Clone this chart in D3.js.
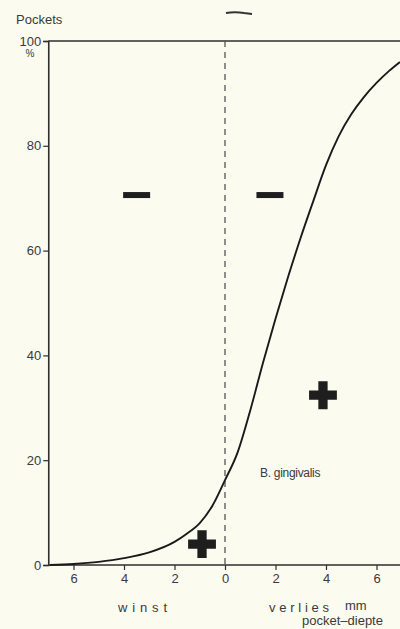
<!DOCTYPE html>
<html><head><meta charset="utf-8">
<script src="https://cdn.jsdelivr.net/npm/d3@7"></script>
<style>
html,body{margin:0;padding:0;background:#fbfbf0;}
svg{display:block;}
text{font-family:"Liberation Sans",Arial,sans-serif;fill:#3a3a3a;}
</style></head>
<body>
<svg id="c" width="400" height="629"></svg>
<script>
// data
const depth = [-6.93,-6,-5,-4,-3,-2,-1.5,-1,-0.5,0,0.5,1,1.5,2,2.5,3,3.5,4,4.5,5,5.5,6,6.5,6.93];
const pockets = [0,0.2,0.6,1.3,2.4,4.4,6.0,8.0,11.3,16.2,21.5,29.5,38.5,47,55,62.5,69.5,76.3,81.8,86,89.3,92,94.3,96];
const minusX = [-3.5, 1.78];
const minusY = [70.6, 70.6];
const plusX = [3.88, -0.91];
const plusY = [32.4, 4.0];
const yTicks = [0,20,40,60,80,100];
const xTicks = [-6,-4,-2,0,2,4,6];
const xTickLabels = ["6","4","2","0","2","4","6"];

const svg = d3.select("#c");
const x = d3.scaleLinear().domain([-7,7]).range([225-7*25.25, 225+7*25.25]);
const y = d3.scaleLinear().domain([0,100]).range([565,41]);
const ink = "#2e2e2e";

// frame lines
svg.append("line").attr("x1",x(-7)).attr("x2",400).attr("y1",y(100)).attr("y2",y(100))
  .attr("stroke",ink).attr("stroke-width",1.6);
svg.append("line").attr("x1",x(-7)).attr("x2",400).attr("y1",y(0)).attr("y2",y(0))
  .attr("stroke",ink).attr("stroke-width",1.6);

// y axis
const ya = svg.append("g").attr("transform",`translate(${x(-7)},0)`)
  .call(d3.axisLeft(y).tickValues(yTicks).tickSize(5).tickPadding(2).tickFormat(d=>d));
ya.select(".domain").attr("stroke",ink).attr("stroke-width",1.6);
ya.selectAll(".tick line").attr("stroke",ink).attr("stroke-width",1.2);
ya.selectAll(".tick text").style("font-size","13px").attr("fill","#3a3a3a")
  .style("font-family","'Liberation Sans',Arial,sans-serif");

// x axis
const xa = svg.append("g").attr("transform",`translate(0,${y(0)})`)
  .call(d3.axisBottom(x).tickValues(xTicks).tickSize(5).tickPadding(4).tickFormat((d,i)=>xTickLabels[i]));
xa.select(".domain").remove();
xa.selectAll(".tick line").attr("stroke",ink).attr("stroke-width",1.2);
xa.selectAll(".tick text").style("font-size","13px").attr("fill","#3a3a3a")
  .style("font-family","'Liberation Sans',Arial,sans-serif");

// dashed zero line
svg.append("line").attr("x1",x(0)).attr("x2",x(0)).attr("y1",y(100)).attr("y2",y(0))
  .attr("stroke","#555").attr("stroke-width",1.3).attr("stroke-dasharray","6,5");

// curve
const line = d3.line().x((d,i)=>x(depth[i])).y((d,i)=>y(pockets[i])).curve(d3.curveMonotoneX);
svg.append("path").datum(depth).attr("d",line).attr("fill","none")
  .attr("stroke","#1a1a1a").attr("stroke-width",1.9);

// minus signs
svg.selectAll(".minus").data(minusX).enter().append("rect")
  .attr("x",(d)=>x(d)-13.5).attr("y",(d,i)=>y(minusY[i])-3)
  .attr("width",27).attr("height",6).attr("fill","#1e1e1e");

// plus signs
const cross = d3.symbol().type(d3.symbolCross).size(430);
svg.selectAll(".plus").data(plusX).enter().append("path")
  .attr("d",cross).attr("transform",(d,i)=>`translate(${x(d)},${y(plusY[i])})`)
  .attr("fill","#1e1e1e");

// texts
svg.append("text").attr("x",16).attr("y",24).style("font-size","13px").text("Pockets");
svg.append("text").attr("x",30).attr("y",57).attr("text-anchor","middle").style("font-size","10px").text("%");
svg.append("text").attr("x",260).attr("y",477).style("font-size","12px").style("letter-spacing","-0.3px").text("B. gingivalis");
svg.append("text").attr("x",118).attr("y",612).style("font-size","13px")
  .attr("textLength",49).attr("lengthAdjust","spacing").text("winst");
svg.append("text").attr("x",269).attr("y",612).style("font-size","13px")
  .attr("textLength",60).attr("lengthAdjust","spacing").text("verlies");
svg.append("text").attr("x",345).attr("y",610).style("font-size","13px").text("mm");
svg.append("text").attr("x",302).attr("y",625).style("font-size","13px").text("pocket–diepte");

// small smudge at the top
svg.append("path").attr("d","M226,13 C232,12 238,12 244,13 L252,14").attr("stroke","#333")
  .attr("stroke-width",1.8).attr("fill","none");
</script>
</body></html>
